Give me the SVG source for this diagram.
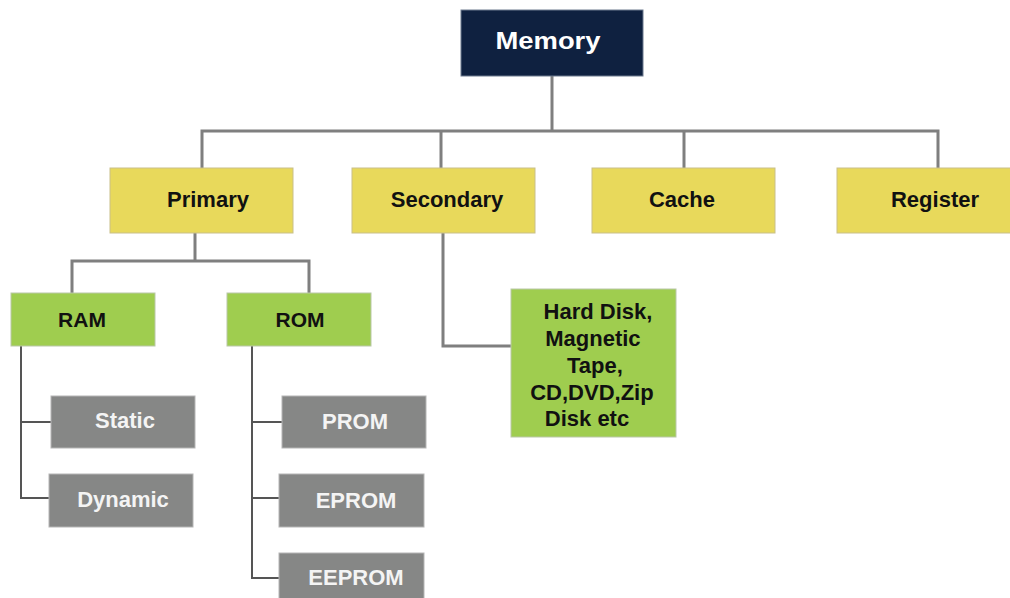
<svg xmlns="http://www.w3.org/2000/svg" width="1010" height="598" viewBox="0 0 1010 598">
  <style>
    .lbl { font-family: "Liberation Sans", Arial, sans-serif; font-weight: bold; text-anchor: middle; }
    .root rect { fill: #0f2140; stroke: #6d7a8e; stroke-width: 1; }
    .root text { fill: #ffffff; font-size: 23px; }
    .lvl1 rect { fill: #e8d95b; stroke: #c9bf8a; stroke-width: 1; }
    .lvl1 text { fill: #111111; font-size: 22px; }
    .lvl2 rect { fill: #9fcd4f; stroke: #b9c7a8; stroke-width: 1; }
    .lvl2 text { fill: #111111; font-size: 21px; }
    .leaf rect { fill: #868786; stroke: #b5b5b5; stroke-width: 1; }
    .leaf text { fill: #f4f4f4; font-size: 22px; }
    .wire { fill: none; stroke: #7f7f7f; stroke-width: 3; }
    .wire-dark { fill: none; stroke: #555555; stroke-width: 2; }
  </style>

  <!-- connectors -->
  <g id="connectors">
    <path class="wire" d="M552 76 V131"/>
    <path class="wire" d="M202 168 V131 H938 V168"/>
    <path class="wire" d="M441 131 V168"/>
    <path class="wire" d="M684 131 V168"/>
    <path class="wire" d="M195 233 V261"/>
    <path class="wire" d="M72 293 V261 H309 V293"/>
    <path class="wire" d="M443 233 V346 H511"/>
    <path class="wire-dark" d="M21 346 V498 H49"/>
    <path class="wire-dark" d="M21 422 H51"/>
    <path class="wire-dark" d="M252 346 V578 H279"/>
    <path class="wire-dark" d="M252 422 H282"/>
    <path class="wire-dark" d="M252 498 H279"/>
  </g>

  <g id="memory" class="root">
    <rect x="461" y="10" width="182" height="66"/>
    <text class="lbl" x="548" y="49" textLength="105" lengthAdjust="spacingAndGlyphs">Memory</text>
  </g>

  <g id="primary" class="lvl1">
    <rect x="110" y="168" width="183" height="65"/>
    <text class="lbl" x="208" y="207">Primary</text>
  </g>
  <g id="secondary" class="lvl1">
    <rect x="352" y="168" width="183" height="65"/>
    <text class="lbl" x="447" y="207">Secondary</text>
  </g>
  <g id="cache" class="lvl1">
    <rect x="592" y="168" width="183" height="65"/>
    <text class="lbl" x="682" y="207">Cache</text>
  </g>
  <g id="register" class="lvl1">
    <rect x="837" y="168" width="183" height="65"/>
    <text class="lbl" x="935" y="207">Register</text>
  </g>

  <g id="ram" class="lvl2">
    <rect x="11" y="293" width="144" height="53"/>
    <text class="lbl" x="82" y="327">RAM</text>
  </g>
  <g id="rom" class="lvl2">
    <rect x="227" y="293" width="144" height="53"/>
    <text class="lbl" x="300" y="327">ROM</text>
  </g>
  <g id="storage-media" class="lvl2">
    <rect x="511" y="289" width="165" height="148"/>
    <text class="lbl" style="font-size:22px">
      <tspan x="601" y="319">Hard Disk,</tspan>
      <tspan x="596" y="346">Magnetic</tspan>
      <tspan x="598" y="373">Tape,</tspan>
      <tspan x="595" y="400">CD,DVD,Zip</tspan>
      <tspan x="587" y="426">Disk etc</tspan>
    </text>
  </g>

  <g id="static" class="leaf">
    <rect x="51" y="396" width="144" height="52"/>
    <text class="lbl" x="125" y="428">Static</text>
  </g>
  <g id="dynamic" class="leaf">
    <rect x="49" y="474" width="144" height="53"/>
    <text class="lbl" x="123" y="507">Dynamic</text>
  </g>
  <g id="prom" class="leaf">
    <rect x="282" y="396" width="144" height="52"/>
    <text class="lbl" x="355" y="429">PROM</text>
  </g>
  <g id="eprom" class="leaf">
    <rect x="279" y="474" width="145" height="53"/>
    <text class="lbl" x="356" y="508">EPROM</text>
  </g>
  <g id="eeprom" class="leaf">
    <rect x="279" y="553" width="145" height="53"/>
    <text class="lbl" x="356" y="585">EEPROM</text>
  </g>
</svg>
